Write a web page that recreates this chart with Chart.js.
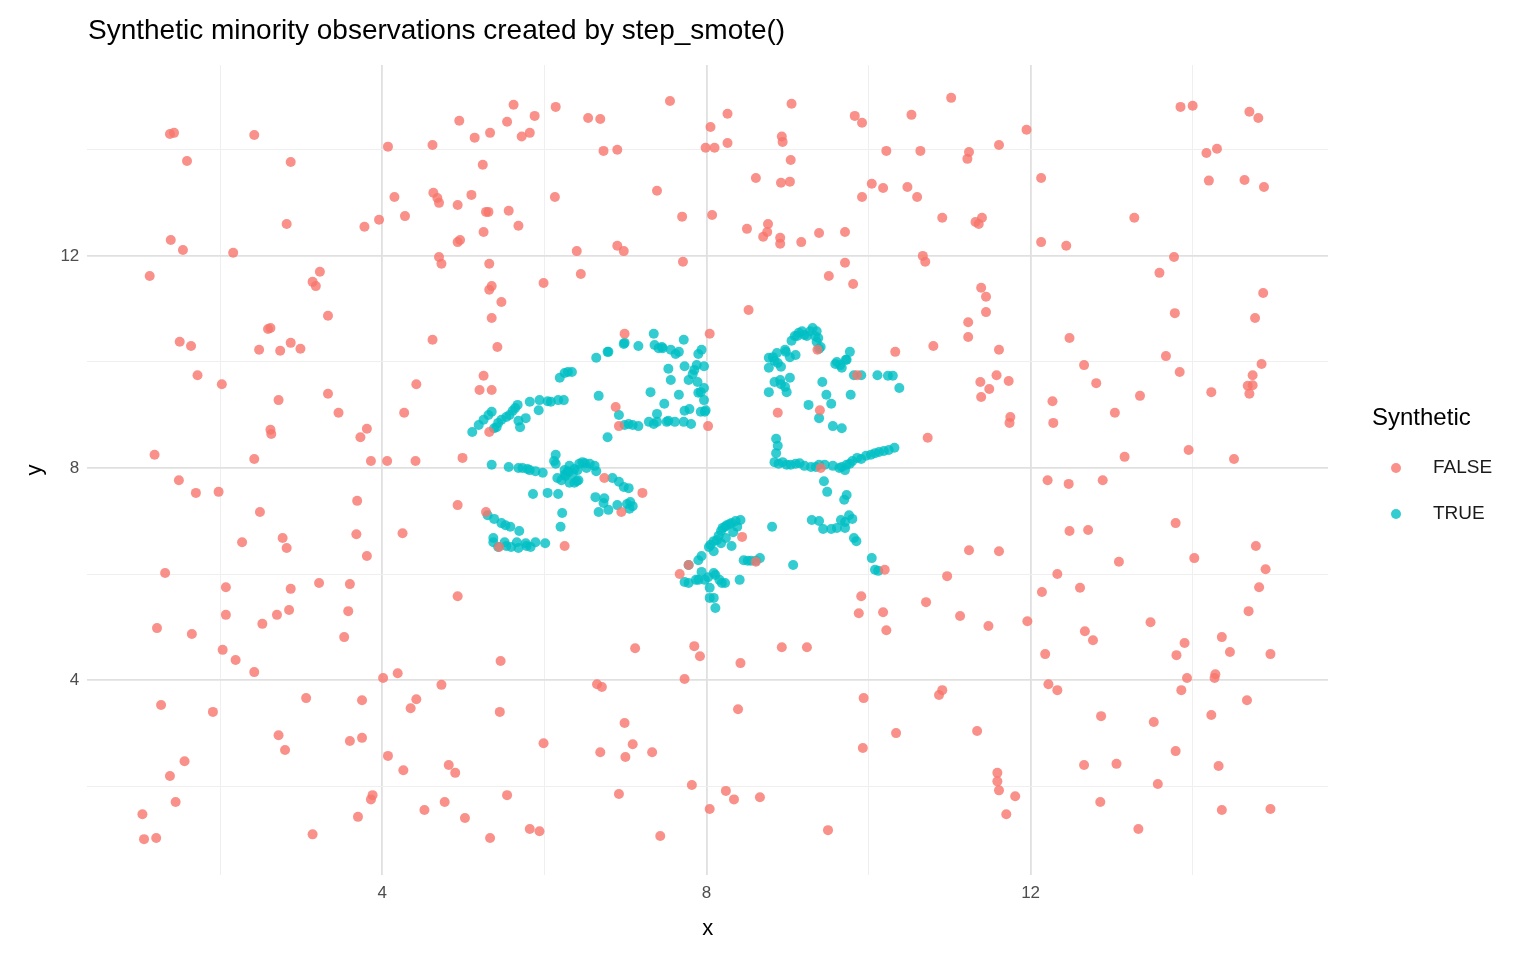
<!DOCTYPE html>
<html>
<head>
<meta charset="utf-8">
<script src="https://cdn.jsdelivr.net/npm/chart.js@4"></script>
<style>
  html, body { margin: 0; padding: 0; background: #fff; }
  #wrap { width: 1536px; height: 960px; }
</style>
</head>
<body>
<div id="wrap"><canvas id="chart" width="1536" height="960"></canvas></div>
<script>
// original observations (Synthetic = FALSE)
const falseX = [1.13,1.38,1.43,1.59,1.39,1.54,1.5,1.64,1.72,1.19,1.49,1.70,1.32,1.22,1.65,1.27,1.38,1.56,1.45,1.04,1.06,1.21,
  2.42,2.16,2.02,1.98,2.07,2.07,2.03,2.19,1.91,2.42,2.49,2.27,2.48,2.59,2.62,2.74,2.72,2.62,2.63,2.87,2.99,2.82,2.87,2.77,2.82,2.87,2.85,2.70,2.52,2.42,2.72,2.80,
  3.06,3.14,3.14,3.18,3.23,3.33,3.33,3.46,3.22,3.53,3.60,3.58,3.60,3.70,3.75,3.75,3.68,3.69,3.73,3.81,3.86,3.81,3.78,3.96,3.86,3.88,4.01,4.06,4.07,4.15,
  4.07,4.19,4.26,4.28,4.27,4.25,4.35,4.42,4.41,4.42,4.52,4.62,4.62,4.63,4.68,4.70,4.70,4.73,4.73,4.77,4.82,4.90,4.93,4.95,4.93,4.96,4.93,4.93,5.02,4.99,5.10,5.14,
  5.24,5.25,5.28,5.31,5.32,5.32,5.35,5.35,5.33,5.25,5.20,5.35,5.28,5.32,5.33,5.42,5.47,5.46,5.45,5.54,5.56,5.54,5.62,5.68,5.72,5.82,5.88,5.82,5.94,5.99,5.99,6.13,6.14,6.25,5.44,
  6.40,6.45,6.54,6.69,6.73,6.90,6.90,6.98,6.99,6.88,6.92,6.74,6.95,6.65,6.71,6.69,6.92,6.99,7.0,7.09,7.12,7.21,7.33,7.39,7.43,
  7.55,7.70,7.71,7.67,7.73,7.78,7.82,7.85,7.92,7.99,8.05,8.10,8.07,8.04,8.02,8.04,8.26,8.26,8.24,8.34,8.39,8.42,8.44,8.52,8.50,8.61,8.61,8.66,
  8.70,8.75,8.76,8.91,8.91,8.92,8.93,8.94,8.88,8.93,9.03,9.04,9.05,9.17,9.24,9.39,9.37,9.40,9.41,9.50,9.51,9.71,9.71,9.81,9.83,9.86,9.92,9.92,9.88,9.91,9.94,9.93,10.04,10.18,10.22,10.18,10.22,10.20,
  10.33,10.34,10.48,10.53,10.60,10.64,10.67,10.70,10.71,10.73,10.80,10.87,10.91,10.91,10.97,11.02,11.13,11.22,11.24,11.23,11.23,11.24,11.32,11.36,11.40,11.34,11.39,11.38,11.39,11.45,11.45,11.49,11.48,11.58,11.61,11.61,11.61,11.59,11.59,11.61,11.70,11.73,11.75,11.74,11.81,11.96,11.95,
  12.13,12.13,12.14,12.18,12.21,12.22,12.27,12.28,12.33,12.33,12.44,12.47,12.48,12.48,12.61,12.66,12.67,12.66,12.71,12.77,12.81,12.87,12.89,12.86,13.04,13.06,13.09,13.16,13.28,13.33,13.35,13.48,13.52,13.57,13.59,13.67,13.77,13.78,13.79,13.80,13.79,13.84,13.86,13.90,13.93,13.85,14.00,13.95,14.02,14.17,14.20,14.23,14.23,14.27,14.30,14.28,14.32,14.36,14.36,14.46,14.51,14.64,14.67,14.68,14.69,14.70,14.70,14.74,14.74,14.77,14.78,14.81,14.82,14.85,14.87,14.88,14.90,14.96,14.96];
const falseY = [11.62,14.3,14.32,13.79,12.3,12.11,10.38,10.3,9.75,8.25,7.77,7.53,6.02,4.98,4.87,3.53,2.19,2.47,1.70,1.47,1.0,1.02,
  14.28,12.06,9.58,7.55,5.75,5.23,4.57,4.38,3.40,8.17,7.17,6.6,10.23,10.62,10.64,10.21,9.28,8.72,8.64,10.36,10.25,12.6,13.77,6.68,6.49,5.72,5.32,5.23,5.06,4.15,2.96,2.68,
  3.66,1.09,11.51,11.43,11.70,10.87,9.40,9.04,5.83,4.81,5.81,5.30,2.85,1.42,2.91,3.62,6.75,7.38,8.58,8.74,8.13,6.34,12.55,12.68,1.75,1.83,4.04,8.13,14.06,13.11,
  2.57,4.13,2.30,12.75,9.04,6.77,3.47,3.64,8.13,9.58,1.55,14.09,10.42,13.19,13.09,13.0,11.98,11.85,3.91,1.70,2.40,2.25,12.96,14.55,12.26,12.30,7.30,5.58,1.40,8.19,13.15,14.23,
  13.72,12.45,12.83,12.83,11.85,11.36,11.43,10.83,14.32,9.74,9.47,9.47,7.17,8.68,1.02,10.28,11.13,4.36,3.40,14.53,12.85,1.83,14.85,12.57,14.25,14.32,14.64,1.19,1.15,11.49,2.81,13.11,14.81,6.53,6.51,
  12.09,11.66,14.60,14.58,13.98,14.0,12.19,12.09,10.53,9.15,8.79,7.81,7.17,3.92,3.87,2.64,1.85,3.19,2.55,2.79,4.60,7.53,2.64,13.23,1.06,
  14.92,12.74,11.89,6.0,4.02,6.17,2.02,4.64,4.45,14.04,14.43,14.04,12.77,10.53,8.79,1.57,14.68,14.13,1.91,1.75,3.45,4.32,6.70,10.98,12.51,6.23,13.47,1.79,
  12.36,12.45,12.60,12.34,12.23,13.38,14.25,14.15,9.04,4.62,13.40,13.81,14.87,12.26,4.62,12.43,10.23,9.09,8.0,1.17,11.62,11.87,12.45,11.47,14.64,9.75,14.51,13.11,5.26,5.58,3.66,2.72,13.36,13.28,13.98,5.28,4.94,6.08,
  10.19,3.0,13.30,14.66,13.11,13.98,12.0,11.89,5.47,8.57,10.30,3.72,3.81,12.72,5.96,14.98,5.21,13.83,13.96,10.75,10.47,6.45,12.64,12.60,12.72,3.04,11.40,9.62,9.34,11.23,10.94,9.49,5.02,9.75,14.09,10.23,6.43,2.25,2.09,1.92,1.47,9.64,8.96,8.85,1.81,5.11,14.38,
  13.47,12.26,5.66,4.49,7.77,3.92,9.26,8.85,3.81,6.0,12.19,7.70,10.45,6.81,5.74,9.94,4.92,2.40,6.83,4.75,9.60,3.32,7.77,1.70,9.04,2.42,6.23,8.21,12.72,1.19,9.36,5.09,3.21,2.04,11.68,10.11,11.98,10.92,6.96,4.47,2.66,9.81,3.81,4.70,4.04,14.81,14.83,8.34,6.30,13.94,13.42,9.43,3.34,4.04,14.02,4.11,2.38,4.81,1.55,4.53,8.17,13.43,3.62,9.55,5.30,14.72,9.40,9.56,9.75,10.83,6.53,14.60,5.75,9.96,11.30,13.30,6.09,4.49,1.57];

// SMOTE-generated observations (Synthetic = TRUE)
const trueX = [5.11,5.19,5.25,5.31,5.35,5.38,5.41,5.43,5.47,5.53,5.57,5.61,5.64,5.67,5.68,5.70,5.77,5.82,5.93,5.94,6.04,6.08,6.17,6.24,6.19,6.25,6.29,6.34,6.64,6.78,6.79,6.98,6.99,7.16,7.35,7.36,7.41,7.45,7.46,7.53,7.56,7.62,7.66,7.72,7.73,7.78,7.83,7.85,7.88,7.90,7.94,7.97,7.89,7.90,7.93,7.97,7.97,7.99,7.93,7.98,7.79,7.81,7.72,7.61,7.53,7.51,7.39,7.35,7.29,7.16,7.09,7.04,6.99,6.92,6.67,6.78,7.31,7.56,7.66,7.48,7.39,7.73,
  5.35,5.56,5.68,5.73,5.79,5.82,5.89,5.98,6.14,6.12,6.16,6.25,6.25,6.29,6.31,6.35,6.37,6.41,6.43,6.47,6.50,6.52,6.56,6.62,6.64,6.21,6.26,6.30,6.40,6.31,6.37,6.42,6.14,6.20,6.17,5.86,6.04,6.74,6.63,6.73,6.84,6.92,6.98,7.04,7.02,7.06,7.09,7.05,6.90,6.67,6.79,6.22,
  5.30,5.38,5.47,5.52,5.58,5.69,5.37,5.37,5.43,5.51,5.53,5.59,5.66,5.68,5.77,5.78,5.83,5.89,6.01,
  7.78,7.90,7.94,8.03,8.05,8.09,8.13,8.15,8.18,8.20,8.23,8.25,8.28,8.31,8.36,8.42,8.09,8.18,8.24,8.33,8.38,7.90,7.98,8.02,8.04,8.11,8.16,8.23,8.09,8.04,8.11,8.41,8.46,8.51,8.55,8.61,8.66,8.31,7.78,7.73,7.87,7.94,8.09,8.19,
  8.77,8.82,8.87,8.88,8.92,8.97,9.05,9.09,9.12,9.14,9.18,9.21,9.24,9.28,9.31,9.36,9.34,9.38,9.36,9.41,9.39,8.84,8.91,8.92,8.97,8.99,9.03,8.77,9.03,8.98,8.77,8.84,9.10,9.43,9.59,9.61,9.65,9.67,9.72,9.73,9.77,9.78,9.54,9.48,9.56,9.67,9.82,9.91,10.11,10.24,10.30,10.38,9.26,9.39,
  8.86,8.88,8.86,8.84,8.89,8.94,8.99,9.04,9.10,9.15,9.21,9.29,9.35,9.39,9.46,9.56,9.64,9.73,9.77,9.80,9.86,9.91,9.97,10.03,10.08,10.13,10.19,10.25,10.32,9.45,9.49,9.67,9.71,
  8.81,9.07,9.30,9.39,9.44,9.54,9.61,9.66,9.71,9.71,9.76,9.80,9.82,9.85,10.04,10.08,10.12,9.70,9.73];
const trueY = [8.68,8.81,8.91,9.0,9.06,8.75,8.77,8.85,8.91,8.96,9.0,9.08,9.13,9.19,8.89,8.77,8.94,9.25,9.09,9.28,9.26,9.25,9.28,9.28,9.70,9.79,9.81,9.81,10.08,10.19,10.19,10.34,10.36,10.30,10.53,10.32,10.26,10.28,10.26,9.87,10.23,10.15,10.19,10.42,9.92,9.66,9.77,9.85,9.94,10.15,10.23,9.92,9.62,9.42,9.43,9.51,9.28,9.09,9.06,9.06,9.11,8.83,8.87,8.87,8.89,8.87,8.87,8.83,8.87,8.79,8.81,8.83,8.81,9.0,9.36,8.58,9.43,9.66,9.38,9.21,9.02,9.08,
  8.06,8.02,8.0,8.0,7.98,7.96,7.94,7.91,8.08,8.13,7.81,7.96,7.87,7.94,8.04,7.89,7.98,7.96,8.08,8.11,8.09,8.0,8.08,8.04,7.94,7.77,7.85,7.92,7.75,7.72,7.72,7.77,8.25,6.89,7.51,7.51,7.53,7.43,7.45,7.34,7.81,7.74,7.64,7.62,7.32,7.36,7.28,7.23,7.30,7.17,7.21,7.15,
  7.11,7.04,6.96,6.92,6.89,6.81,6.68,6.60,6.51,6.60,6.53,6.51,6.60,6.49,6.58,6.53,6.51,6.60,6.58,
  6.17,6.26,6.34,6.51,6.55,6.62,6.64,6.72,6.81,6.87,6.89,6.92,6.94,6.96,7.0,7.02,6.43,6.58,6.68,6.79,6.89,5.89,5.89,5.94,5.74,5.98,5.89,5.83,5.55,5.55,5.36,5.89,6.26,6.25,6.25,6.25,6.30,6.53,5.83,5.85,5.89,6.04,6.02,5.83,
  10.08,10.09,10.17,9.98,9.91,10.23,10.40,10.49,10.49,10.55,10.58,10.51,10.49,10.58,10.64,10.58,10.49,10.45,10.38,10.28,10.25,9.62,9.66,9.58,9.53,9.43,9.70,9.43,10.09,10.19,9.89,10.02,10.13,9.62,9.96,10.0,9.94,9.89,10.04,10.04,10.19,9.38,9.21,9.38,8.79,8.75,9.75,9.75,9.75,9.74,9.74,9.51,9.19,8.94,
  8.55,8.42,8.28,8.11,8.08,8.11,8.06,8.06,8.08,8.09,8.04,8.02,8.02,8.06,8.06,8.04,8.0,8.06,8.08,8.13,8.19,8.17,8.23,8.25,8.28,8.30,8.32,8.34,8.38,7.75,7.55,8.02,7.96,
  6.89,6.17,7.02,7.0,6.85,6.85,6.87,7.02,6.98,6.87,7.11,7.04,6.68,6.62,6.30,6.08,6.06,7.40,7.49];

const gridTicks = [2, 4, 6, 8, 10, 12, 14];
const labelTicks = [4, 8, 12];
const seriesNames = ['FALSE', 'TRUE'];
const seriesColors = ['rgba(248,118,109,0.8)', 'rgba(0,191,196,0.8)'];
const chartTitle = 'Synthetic minority observations created by step_smote()';
const fontFamily = '"Liberation Sans", Arial, sans-serif';

const toPoints = (xs, ys) => xs.map((x, i) => ({ x: x, y: ys[i] }));

// title and ggplot-style legend drawn by hand
const decorations = {
    id: 'decorations',
    afterDraw(chart) {
        const ctx = chart.ctx;
        ctx.save();
        ctx.fillStyle = '#000';
        ctx.textBaseline = 'middle';
        ctx.font = '28px ' + fontFamily;
        ctx.fillText(chartTitle, 88, 31);
        ctx.font = '24px ' + fontFamily;
        ctx.fillText('Synthetic', 1372, 418);
        ctx.font = '19px ' + fontFamily;
        seriesNames.forEach((name, i) => {
            const y = 468 + i * 46;
            ctx.beginPath();
            ctx.arc(1396, y, 5, 0, Math.PI * 2);
            ctx.fillStyle = seriesColors[i];
            ctx.fill();
            ctx.fillStyle = '#1a1a1a';
            ctx.fillText(name, 1433, y);
        });
        ctx.restore();
    }
};

const gridColor = ctx => labelTicks.includes(ctx.tick && ctx.tick.value) ? '#e0e0e0' : '#efefef';
const gridWidth = ctx => labelTicks.includes(ctx.tick && ctx.tick.value) ? 1.8 : 1;

const axis = (min, max, title) => ({
    type: 'linear',
    min: min,
    max: max,
    afterBuildTicks: s => { s.ticks = gridTicks.map(v => ({ value: v })); },
    border: { display: false },
    grid: { color: gridColor, lineWidth: gridWidth, drawTicks: false },
    ticks: {
        color: '#4d4d4d',
        font: { size: 17, family: fontFamily },
        padding: 8,
        callback: v => labelTicks.includes(v) ? String(v) : ''
    },
    title: {
        display: true,
        text: title,
        color: '#000',
        font: { size: 22, family: fontFamily }
    }
});

new Chart(document.getElementById('chart'), {
    type: 'scatter',
    data: {
        datasets: [
            { label: 'FALSE', data: toPoints(falseX, falseY), backgroundColor: seriesColors[0], borderWidth: 0, pointRadius: 5 },
            { label: 'TRUE', data: toPoints(trueX, trueY), backgroundColor: seriesColors[1], borderWidth: 0, pointRadius: 5 }
        ]
    },
    options: {
        responsive: false,
        animation: false,
        layout: { padding: { left: 18, right: 208, top: 65, bottom: 14 } },
        plugins: {
            legend: { display: false },
            tooltip: { enabled: false },
            title: { display: false }
        },
        scales: {
            x: axis(0.36, 15.67, 'x'),
            y: axis(0.32, 15.6, 'y')
        }
    },
    plugins: [decorations]
});
</script>
</body>
</html>
